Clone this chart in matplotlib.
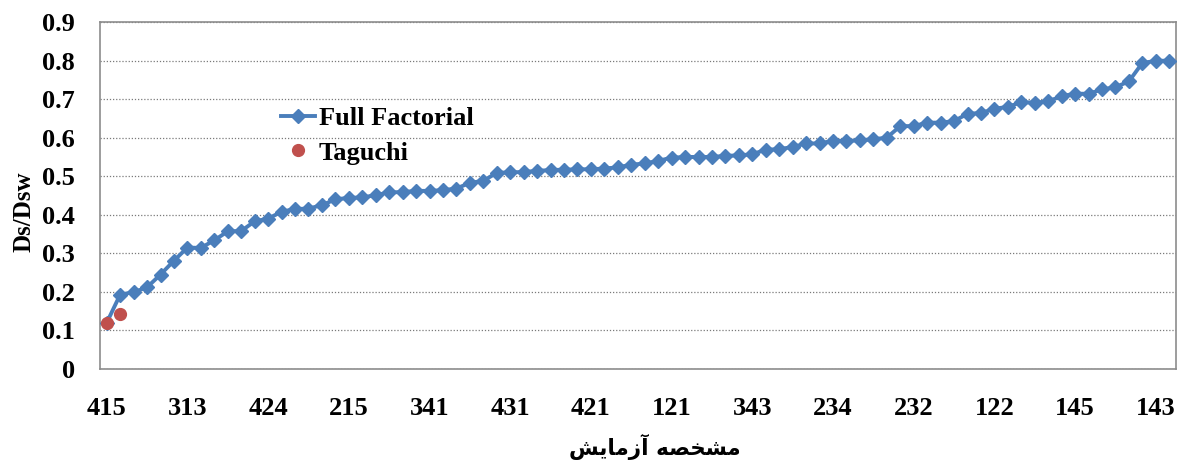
import matplotlib
matplotlib.use("Agg")
import matplotlib.pyplot as plt
from matplotlib.font_manager import FontProperties
from matplotlib.ticker import FuncFormatter
import numpy as np

# Ds/Dsw for every run of the full factorial design, sorted ascending
full_factorial = [
    0.120, 0.193, 0.199, 0.212, 0.245, 0.281, 0.315, 0.314, 0.334, 0.357,
    0.358, 0.383, 0.390, 0.408, 0.415, 0.416, 0.425, 0.440, 0.444, 0.445,
    0.451, 0.458, 0.459, 0.462, 0.462, 0.464, 0.468, 0.483, 0.488, 0.509,
    0.510, 0.511, 0.514, 0.516, 0.517, 0.518, 0.518, 0.520, 0.523, 0.530,
    0.533, 0.540, 0.548, 0.550, 0.550, 0.550, 0.553, 0.554, 0.557, 0.569,
    0.570, 0.576, 0.585, 0.585, 0.592, 0.592, 0.593, 0.596, 0.600, 0.630,
    0.630, 0.639, 0.639, 0.643, 0.662, 0.664, 0.675, 0.680, 0.692, 0.691,
    0.694, 0.708, 0.714, 0.714, 0.725, 0.731, 0.746, 0.794, 0.799, 0.800,
]
# Taguchi optimum results
taguchi = [0.120, 0.142]

# run identifiers shown on the category axis (every sixth run)
tick_labels = ["415", "313", "424", "215", "341", "431", "421",
               "121", "343", "234", "232", "122", "145", "143"]
label_step = 6

# "مشخصه آزمایش" written with Arabic presentation forms in display order
x_title = "\uFEB6\uFBFE\uFE8E\uFEE3\uFEAF\uFE81 \uFEEA\uFEBC\uFEA8\uFEB8\uFEE3"
y_title = "Ds/Dsw"

serif_bold = FontProperties(family="Liberation Serif", weight="bold", size=19)

W, H = 1182, 465
fig = plt.figure(figsize=(W / 100, H / 100), dpi=100)
ax = fig.add_axes([100 / W, 1 - 369 / H, 1076 / W, 347 / H])

x = np.arange(len(full_factorial))
ax.plot(x, full_factorial, color="#4A7EBB", lw=2.8, marker="D", ms=7.5,
        mfc="#4A7EBB", mec="#4A7EBB", label="Full Factorial", zorder=3)
ax.plot(np.arange(len(taguchi)), taguchi, ls="none", marker="o", ms=8.5,
        color="#C0504D", label="Taguchi", zorder=4)

ax.set_xlim(-0.5, len(full_factorial) - 0.5)
ax.set_ylim(0, 0.9)
ax.set_yticks(np.arange(0, 0.95, 0.1))
ax.yaxis.set_major_formatter(FuncFormatter(lambda v, _: f"{v:.1f}".rstrip("0").rstrip(".") if v else "0"))
ax.set_xticks(np.arange(0, len(full_factorial), label_step))
ax.set_xticklabels(tick_labels)

for lab in ax.get_xticklabels() + ax.get_yticklabels():
    lab.set_fontproperties(serif_bold)

ax.tick_params(axis="y", length=0, pad=18)
ax.tick_params(axis="x", length=0, pad=20)

ax.yaxis.grid(True, linestyle=(0, (1, 1.5)), color="#7a7a7a", lw=0.9)
ax.set_axisbelow(True)
for sp in ax.spines.values():
    sp.set_color("#8c8c8c")
    sp.set_linewidth(1.2)

ax.legend(loc="upper left", bbox_to_anchor=(0.168, 0.755), frameon=False,
          prop=serif_bold, handlelength=1.3, handletextpad=0.15,
          labelspacing=0.4, borderaxespad=0, borderpad=0)

fig.text(24 / W, 1 - 212 / H, y_title, rotation=90, ha="center", va="center",
         fontproperties=FontProperties(family="Liberation Serif", weight="bold", size=18))
fig.text(655 / W, 1 - 447 / H, x_title, ha="center", va="center",
         family="DejaVu Sans", weight="bold", size=15.5)

fig.savefig("out.png", dpi=100)
